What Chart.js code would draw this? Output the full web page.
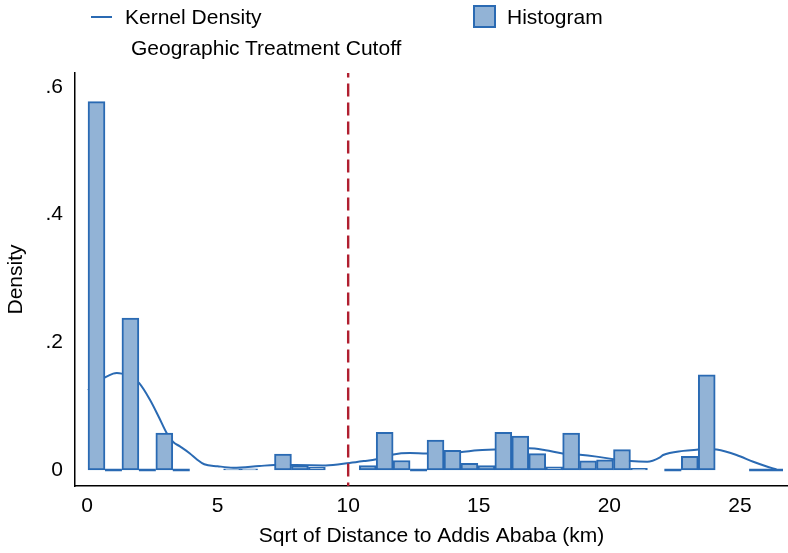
<!DOCTYPE html>
<html>
<head>
<meta charset="utf-8">
<script src="https://cdn.jsdelivr.net/npm/chart.js@4/dist/chart.umd.min.js"></script>
<style>
  html, body { margin: 0; padding: 0; background: #fff; }
  #wrap { position: relative; width: 788px; height: 553px; font-family: "Liberation Sans", Arial, sans-serif; }
  canvas { position: absolute; left: 0; top: 0; }
  .lg { position: absolute; font-size: 21px; line-height: 24px; color: #000; white-space: nowrap; }
  .sw-line { position: absolute; height: 2px; background: #2a6ab3; }
  .sw-box { position: absolute; box-sizing: border-box; border: 2px solid #2a6ab3; background: #92b3d6; }
</style>
</head>
<body>
<div id="wrap">
  <canvas id="c" width="788" height="553"></canvas>
  <div class="sw-line" style="left:91px; top:16px; width:21px;"></div>
  <div class="lg" style="left:125px; top:5px;">Kernel Density</div>
  <div class="sw-box" style="left:473px; top:5px; width:23px; height:23px;"></div>
  <div class="lg" style="left:507px; top:5px;">Histogram</div>
  <div class="lg" style="left:131px; top:36px;">Geographic Treatment Cutoff</div>
</div>
<script>
// ---- data ----
const binStart = 0.04;      // left edge of first histogram bin (sqrt km)
const binWidth = 0.649;     // histogram bin width (sqrt km)
const binHeights = [
  0.577, 0, 0.238, 0, 0.058, 0, null, null, 0.002, 0.002,
  null, 0.025, 0.0068, 0.0042, null, null, 0.0068, 0.059, 0.015, 0,
  0.047, 0.031, 0.0105, 0.0068, 0.059, 0.053, 0.0256, 0.0052, 0.058, 0.0146,
  0.016, 0.032, 0.0026, null, 0, 0.0215, 0.149, null, null, 0,
  0
];
const kdX = [0.04, 0.35, 0.69, 1.0, 1.14, 1.33, 1.7, 2.0, 2.41, 2.75,
  3.05, 3.30, 3.56, 3.94, 4.2, 4.49, 5.0, 5.6, 6.6, 7.17,
  8.0, 9.14, 10.05, 10.6, 11.08, 11.73, 12.36, 13.0, 14.28, 14.97,
  15.61, 16.58, 16.92, 17.56, 18.21, 18.88, 19.51, 20.16, 20.81, 21.45,
  21.94, 22.06, 22.83, 23.40, 23.75, 24.11, 24.87, 25.51, 26.0, 26.4];
const kdY = [0.125, 0.136, 0.145, 0.151, 0.152, 0.151, 0.145, 0.136, 0.11, 0.083,
  0.058, 0.044, 0.037, 0.026, 0.017, 0.009, 0.006, 0.0037, 0.0063, 0.0078,
  0.0078, 0.0073, 0.011, 0.014, 0.017, 0.0245, 0.0266, 0.026, 0.028, 0.031,
  0.032, 0.034, 0.034, 0.031, 0.026, 0.024, 0.021, 0.017, 0.014, 0.013,
  0.02, 0.0235, 0.030, 0.032, 0.033, 0.032, 0.0235, 0.013, 0.006, 0.001];
const cutoff = 10;
const xTickValues = [0, 5, 10, 15, 20, 25];
const yTickValues = [0, 0.2, 0.4, 0.6];
const yTickLabels = ['0', '.2', '.4', '.6'];
const xRange = [-0.459, 26.84];
const yRange = [-0.025, 0.6218];

// ---- derived datasets ----
const histData = binHeights.map((h, i) => ({ x: binStart + binWidth * (i + 0.5), y: h }));
const zeroLine = [];
binHeights.forEach((h, i) => {
  if (h === 0) {
    const l = binStart + binWidth * i, r = l + binWidth;
    zeroLine.push({ x: l, y: 0 }, { x: r, y: 0 }, { x: r, y: null });
  }
});
const kdData = kdX.map((x, i) => ({ x, y: kdY[i] }));

const BLUE = '#2a6ab3';
const FONT = { family: '"Liberation Sans", Arial, sans-serif', size: 21 };

new Chart(document.getElementById('c'), {
  data: {
    datasets: [
      { type: 'line', label: 'Geographic Treatment Cutoff', data: [{ x: cutoff, y: yRange[1] }, { x: cutoff, y: yRange[0] }],
        borderColor: '#b01f30', borderWidth: 2.4, borderDash: [13, 6], borderDashOffset: 8.5,
        pointRadius: 0, fill: false, order: -1 },
      { type: 'bar', label: 'Histogram', data: histData, backgroundColor: '#92b3d6', borderColor: BLUE,
        borderWidth: 2, borderSkipped: false, barPercentage: 1, categoryPercentage: 1, order: 0 },
      { type: 'line', label: 'zero bins', data: zeroLine, borderColor: BLUE, borderWidth: 2.5,
        pointRadius: 0, spanGaps: false, fill: false, order: 0.5 },
      { type: 'line', label: 'Kernel Density', data: kdData, borderColor: BLUE, borderWidth: 2,
        pointRadius: 0, fill: false, cubicInterpolationMode: 'monotone', order: 1 }
    ]
  },
  options: {
    responsive: false,
    animation: false,
    devicePixelRatio: 1,
    layout: { padding: { top: 73, left: 0, right: 0, bottom: 0 } },
    plugins: { legend: { display: false }, tooltip: { enabled: false } },
    scales: {
      x: {
        type: 'linear', min: xRange[0], max: xRange[1], offset: false,
        afterBuildTicks: s => { s.ticks = xTickValues.map(v => ({ value: v })); },
        afterFit: s => { s.height = 67; },
        grid: { display: false, drawTicks: false },
        border: { display: true, color: '#000', width: 1.5 },
        ticks: { font: FONT, color: '#000', padding: 8, maxRotation: 0, autoSkip: false, callback: v => String(v) },
        title: { display: true, text: 'Sqrt of Distance to Addis Ababa (km)', font: FONT, color: '#000', padding: { top: 0, bottom: 4 } }
      },
      y: {
        type: 'linear', min: yRange[0], max: yRange[1],
        afterBuildTicks: s => { s.ticks = yTickValues.map(v => ({ value: v })); },
        afterFit: s => { s.width = 75; },
        grid: { display: false, drawTicks: false },
        border: { display: true, color: '#000', width: 1.5 },
        ticks: { font: FONT, color: '#000', padding: 12, autoSkip: false,
          callback: v => { const i = yTickValues.findIndex(t => Math.abs(t - v) < 1e-9); return i >= 0 ? yTickLabels[i] : ''; } },
        title: { display: true, text: 'Density', font: FONT, color: '#000', padding: { top: 4, bottom: 0 } }
      }
    }
  }
});
</script>
</body>
</html>
